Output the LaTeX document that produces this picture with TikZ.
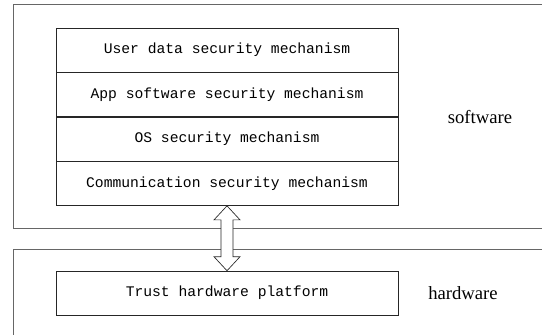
\documentclass[tikz,border=0pt]{standalone}
\usepackage{fontspec}
\setmainfont{Liberation Serif}
\setmonofont{Liberation Mono}
\usetikzlibrary{positioning, calc}

\begin{document}
\begin{tikzpicture}[
    x=0.75pt, y=-0.75pt,
    layer/.style={draw=black!85, rectangle, minimum width=256.5pt, minimum height=33pt, inner sep=0pt, font=\ttfamily\fontsize{11}{13}\selectfont},
    frame/.style={draw=black!60, line width=0.75pt},
    side/.style={font=\fontsize{14}{16}\selectfont},
    link/.style={draw=black!85, fill=white, line width=0.5pt}
]
    \useasboundingbox (0,0) rectangle (542,335);

    % Software frame and hardware frame
    \draw[frame] (542,5) -| (13,228) -- (542,228);
    \draw[frame] (542,249) -| (13,335);

    % Software layers
    \node[layer] (user) at (227,50) {User data security mechanism};
    \node[layer, below=0pt of user] (app) {App software security mechanism};
    \node[layer, below=0pt of app] (os) {OS security mechanism};
    \node[layer, below=0pt of os] (comm) {Communication security mechanism};

    % Hardware layer
    \node[layer] (trust) at (227,293) {Trust hardware platform};

    % Side labels
    \node[side] (sw) at (480,117) {software};
    \node[side] (hw) at (463,293) {hardware};

    % Double hollow arrow
    \draw[link] (comm.south) -- ++(13,14) -- ++(-7,0)
        -- ($(trust.north)+(6,-14)$) -- ++(7,0) -- (trust.north)
        -- ++(-13,-14) -- ++(7,0)
        -- ($(comm.south)+(-6,14)$) -- ++(-7,0) -- cycle;
\end{tikzpicture}
\end{document}
